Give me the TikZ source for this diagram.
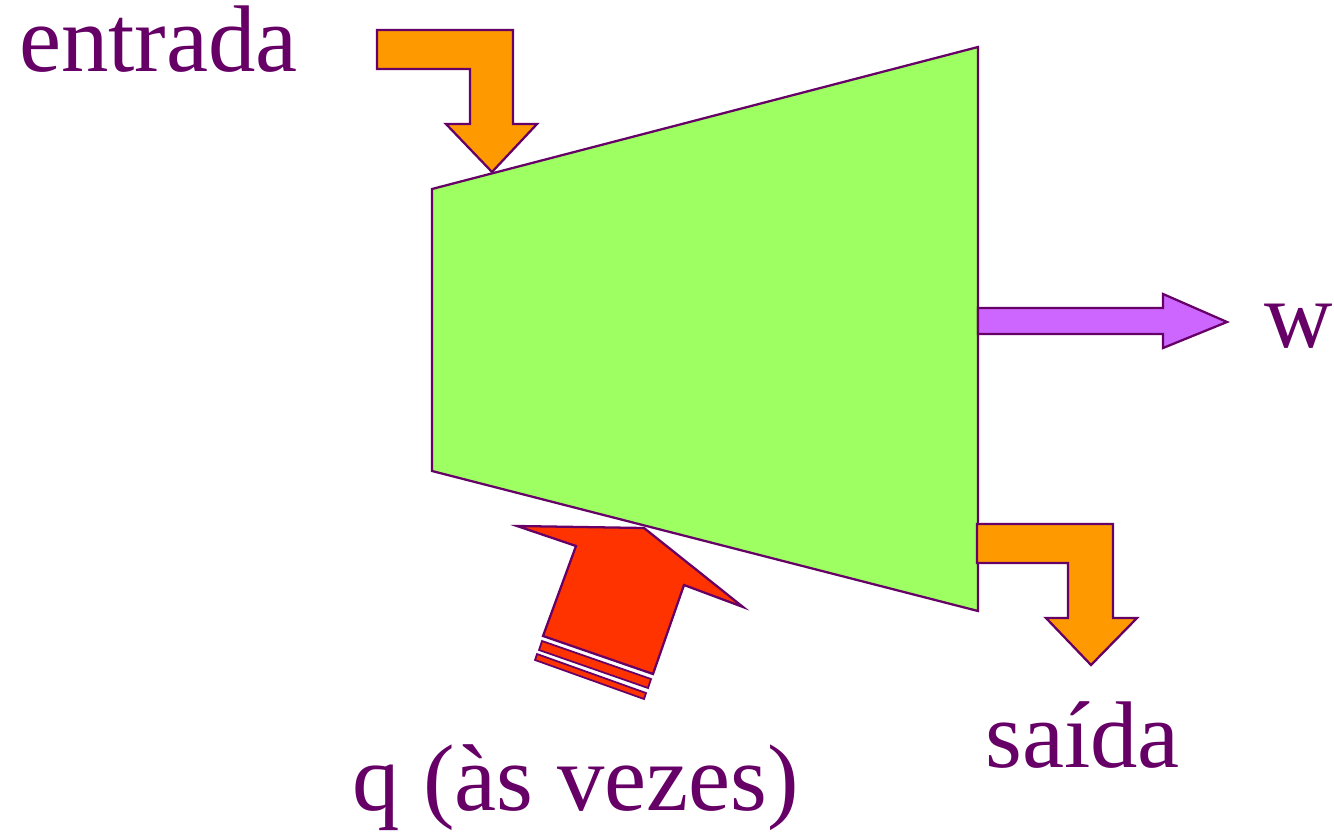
\documentclass[tikz,border=0pt]{standalone}
\usepackage{fontspec}
\setmainfont{Liberation Serif}
\definecolor{edge}{HTML}{660066}
\definecolor{turb}{HTML}{9EFF62}
\definecolor{flow}{HTML}{FF9900}
\definecolor{work}{HTML}{CC66FF}
\definecolor{heat}{HTML}{FF3300}
\tikzset{
  shapeline/.style={draw=edge, line width=1.7pt, line join=miter},
  lbl/.style={text=edge, anchor=base west, inner sep=0pt, font=\fontsize{71}{80}\selectfont}
}
\begin{document}
\begin{tikzpicture}[x=0.75pt,y=-0.75pt]
\useasboundingbox (0,0) rectangle (1334,834);
% turbine body
\draw[shapeline, fill=turb] (432,189) -- (978,47) -- (978,611) -- (432,471) -- cycle;
% inlet arrow
\draw[shapeline, fill=flow] (377,30) -- (513,30) -- (513,124) -- (537,124) -- (492,172) -- (446,124) -- (470,124) -- (470,69) -- (377,69) -- cycle;
% outlet arrow
\draw[shapeline, fill=flow] (977,524) -- (1113,524) -- (1113,618) -- (1137,618) -- (1091,665) -- (1046,618) -- (1068,618) -- (1068,563) -- (977,563) -- cycle;
% work arrow
\draw[shapeline, fill=work] (978,308) -- (1163,308) -- (1163,294) -- (1227,322) -- (1163,348) -- (1163,334) -- (978,334) -- cycle;
% heat arrow
\draw[shapeline, fill=heat] (517,526) -- (644,528) -- (743,607) -- (684,585) -- (653,674) -- (543,636) -- (576,546) -- cycle;
\draw[shapeline, line width=1.3pt, fill=heat] (542,641) -- (651,679) -- (648,688) -- (539,650) -- cycle;
\draw[shapeline, line width=1.3pt, fill=heat] (537,654) -- (646,693) -- (644,699) -- (535,660) -- cycle;
% labels
\node[lbl] (entrada) at (19,72) {entrada};
\node[lbl] (w) at (1264,347) {w};
\node[lbl] (saida) at (985,767) {saída};
\node[lbl] (q) at (352,810) {q (às vezes)};
\end{tikzpicture}
\end{document}
